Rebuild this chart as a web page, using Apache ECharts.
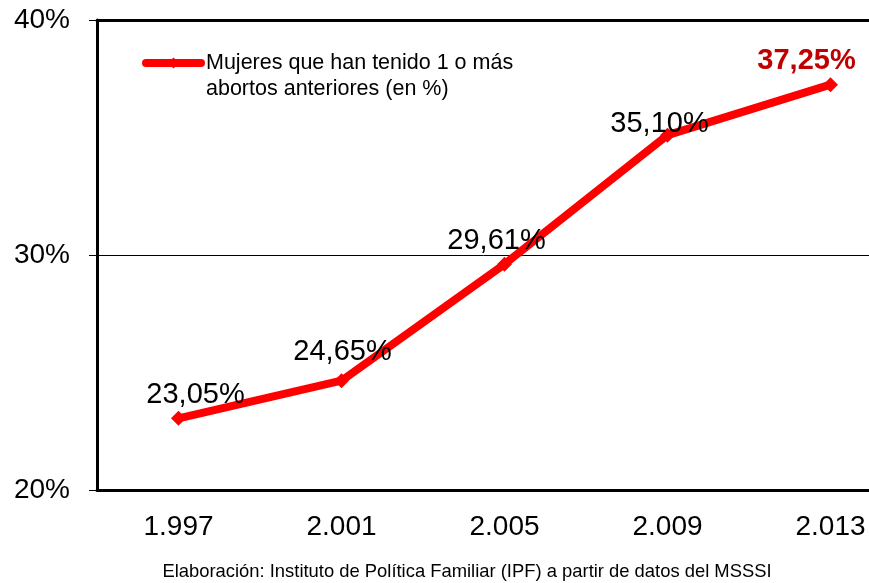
<!DOCTYPE html>
<html lang="es">
<head>
    <meta charset="UTF-8">
    <title>Mujeres que han tenido 1 o más abortos anteriores</title>
    <script src="https://cdn.jsdelivr.net/npm/echarts@6/dist/echarts.min.js"></script>
    <style>
        html, body { margin: 0; padding: 0; background: #fff; }
        #main { width: 869px; height: 583px; }
    </style>
</head>
<body>
    <div id="main"></div>
    <script>
        // datos
        var years = ['1.997', '2.001', '2.005', '2.009', '2.013'];
        var values = [23.05, 24.65, 29.61, 35.10, 37.25];
        var yTicks = [20, 30, 40];

        var serieName = 'Mujeres que han tenido 1 o más abortos anteriores (en %)';
        var font = 'Liberation Sans, Arial, sans-serif';
        // desplazamiento de cada etiqueta respecto a su punto
        var labelOffsets = [[17, -23], [1, -29], [-8, -23], [-8, -11], [-24, -24]];

        var seriesData = values.map(function (v, i) {
            var item = {
                value: v,
                label: { offset: labelOffsets[i] }
            };
            if (i === values.length - 1) {
                item.label.color = '#c00000';
                item.label.fontWeight = 'bold';
            }
            return item;
        });

        var myChart = echarts.init(document.getElementById('main'));
        var option = {
            animation: false,
            backgroundColor: '#fff',
            textStyle: { fontFamily: font },
            grid: { left: 97, right: -43, top: 20, bottom: 93, outerBoundsMode: 'none' },
            legend: {
                left: 137,
                top: 21,
                itemWidth: 55,
                itemHeight: 14,
                lineStyle: { width: 8, cap: 'round' },
                formatter: function () {
                    // la primera linea vacia deja el icono a la altura de la primera linea
                    return '{e| }\n{a|Mujeres que han tenido 1 o más}\n{a|abortos anteriores (en %)}';
                },
                textStyle: {
                    color: '#000',
                    rich: {
                        e: { fontSize: 21.5, lineHeight: 26, fontFamily: font },
                        a: { fontSize: 21.5, lineHeight: 26, color: '#000', fontFamily: font }
                    }
                },
                data: [serieName]
            },
            xAxis: [{
                type: 'category',
                data: years,
                boundaryGap: true,
                axisLine: { lineStyle: { color: '#000', width: 3 } },
                axisTick: { length: 6, lineStyle: { color: '#000', width: 1 } },
                axisLabel: { fontSize: 28, color: '#000', margin: 23, fontFamily: font }
            }, {
                type: 'category',
                position: 'top',
                data: years,
                axisLine: { lineStyle: { color: '#000', width: 3 } },
                axisTick: { show: false },
                axisLabel: { show: false }
            }],
            yAxis: {
                type: 'value',
                min: yTicks[0],
                max: yTicks[yTicks.length - 1],
                interval: 10,
                axisLine: { show: true, lineStyle: { color: '#000', width: 3 } },
                axisTick: { show: true, length: 8, lineStyle: { color: '#000', width: 1 } },
                axisLabel: {
                    fontSize: 28, color: '#000', margin: 27, fontFamily: font,
                    formatter: '{value}%'
                },
                splitLine: { show: true, lineStyle: { color: '#000', width: 1 } }
            },
            series: [{
                name: serieName,
                type: 'line',
                data: seriesData,
                symbol: 'diamond',
                symbolSize: 15,
                itemStyle: { color: '#ff0000' },
                lineStyle: { color: '#ff0000', width: 8 },
                label: {
                    show: true,
                    position: 'inside',
                    fontSize: 29,
                    color: '#000',
                    fontFamily: font,
                    formatter: function (p) {
                        return p.value.toFixed(2).replace('.', ',') + '%';
                    }
                }
            }],
            graphic: [{
                type: 'text',
                x: 467,
                y: 572,
                style: {
                    text: 'Elaboración: Instituto de Política Familiar (IPF) a partir de datos del MSSSI',
                    fontSize: 18.4,
                    fontFamily: font,
                    fill: '#000',
                    textAlign: 'center',
                    textVerticalAlign: 'middle'
                }
            }]
        };
        myChart.setOption(option);
    </script>
</body>
</html>
